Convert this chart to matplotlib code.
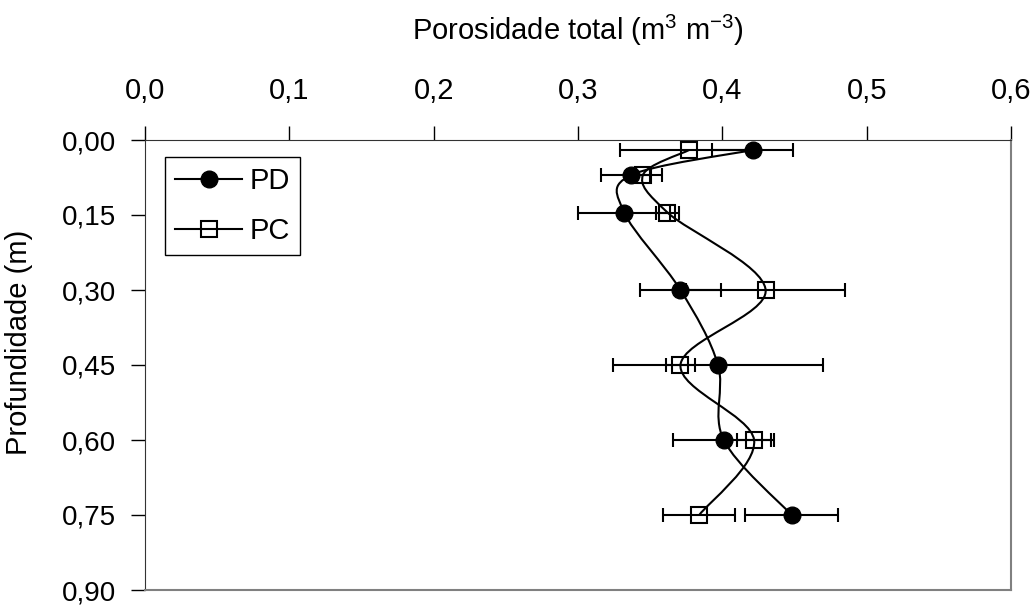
import numpy as np
import matplotlib
matplotlib.use("Agg")
import matplotlib.pyplot as plt
from matplotlib.path import Path
from matplotlib.patches import PathPatch
from matplotlib.lines import Line2D
from matplotlib.ticker import FuncFormatter

plt.rcParams['font.family'] = ['Liberation Sans', 'DejaVu Sans']
plt.rcParams['mathtext.default'] = 'regular'

# depth of each sampled layer (m)
depth = [0.02, 0.07, 0.145, 0.30, 0.45, 0.60, 0.75]

# total porosity, PD and PC (m3 m-3)
pd_vals = [0.421, 0.337, 0.332, 0.371, 0.397, 0.401, 0.448]
pd_err = [0.028, 0.021, 0.032, 0.028, 0.073, 0.035, 0.032]
pc_vals = [0.377, 0.345, 0.362, 0.430, 0.371, 0.422, 0.384]
pc_err = [0.048, 0.005, 0.008, 0.055, 0.010, 0.012, 0.025]

x_ticks = [0.0, 0.1, 0.2, 0.3, 0.4, 0.5, 0.6]
y_ticks = [0.00, 0.15, 0.30, 0.45, 0.60, 0.75, 0.90]


def smooth_path(x, y):
    # excel-like smoothed line (catmull-rom as bezier segments)
    pts = np.column_stack([x, y])
    ext = np.vstack([pts[0], pts, pts[-1]])
    verts = [pts[0]]
    codes = [Path.MOVETO]
    for i in range(len(pts) - 1):
        p0, p1, p2, p3 = ext[i], ext[i + 1], ext[i + 2], ext[i + 3]
        verts += [p1 + (p2 - p0) / 6, p2 - (p3 - p1) / 6, p2]
        codes += [Path.CURVE4] * 3
    return Path(verts, codes)


fig = plt.figure(figsize=(10.32, 6.06), dpi=100)
ax = fig.add_axes([145 / 1032, 1 - 590 / 606, 866 / 1032, 450 / 606])

for xs in [pd_vals, pc_vals]:
    ax.add_patch(PathPatch(smooth_path(xs, depth), facecolor='none',
                           edgecolor='black', lw=1.5, zorder=2))

ax.errorbar(pd_vals, depth, xerr=pd_err, fmt='none', ecolor='black',
            elinewidth=1.5, capsize=5, capthick=1.5, zorder=3)
ax.errorbar(pc_vals, depth, xerr=pc_err, fmt='none', ecolor='black',
            elinewidth=1.5, capsize=5, capthick=1.5, zorder=3)

ax.plot(pd_vals, depth, ls='none', marker='o', ms=12, mfc='black',
        mec='black', zorder=4)
ax.plot(pc_vals, depth, ls='none', marker='s', ms=11, mfc='none',
        mec='black', mew=1.5, zorder=4)

ax.set_xlim(0, 0.6)
ax.set_ylim(0.90, 0.00)
ax.set_xticks(x_ticks)
ax.set_yticks(y_ticks)
ax.xaxis.set_major_formatter(FuncFormatter(lambda v, p: f"{v:.1f}".replace('.', ',')))
ax.yaxis.set_major_formatter(FuncFormatter(lambda v, p: f"{v:.2f}".replace('.', ',')))
ax.xaxis.tick_top()
ax.xaxis.set_label_position('top')
ax.tick_params(axis='x', direction='out', length=10, width=1, pad=15, labelsize=21)
ax.tick_params(axis='y', direction='out', length=10, width=1, pad=11, labelsize=20)

ax.spines['top'].set_color('#333333')
ax.spines['left'].set_color('#333333')
ax.spines['right'].set_color('#808080')
ax.spines['bottom'].set_color('#808080')
ax.spines['right'].set_linewidth(1.5)
ax.spines['bottom'].set_linewidth(1.5)

ax.set_xlabel('Porosidade total (m$^{3}$ m$^{-3}$)', fontsize=21, labelpad=27)
ax.set_ylabel('Profundidade (m)', fontsize=21)
ax.yaxis.set_label_coords(-0.129, 0.55)

handles = [
    Line2D([], [], color='black', lw=1.5, marker='o', ms=12, mfc='black'),
    Line2D([], [], color='black', lw=1.5, marker='s', ms=11, mfc='none', mew=1.5),
]
leg = ax.legend(handles, ['PD', 'PC'], loc='upper left', bbox_to_anchor=(0.023, 0.962),
                borderaxespad=0, fancybox=False, edgecolor='black', fontsize=21,
                handlelength=2.3, handletextpad=0.25, labelspacing=0.75,
                borderpad=0.35, framealpha=1)
leg.get_frame().set_linewidth(1)

fig.savefig('out.png', dpi=100)
